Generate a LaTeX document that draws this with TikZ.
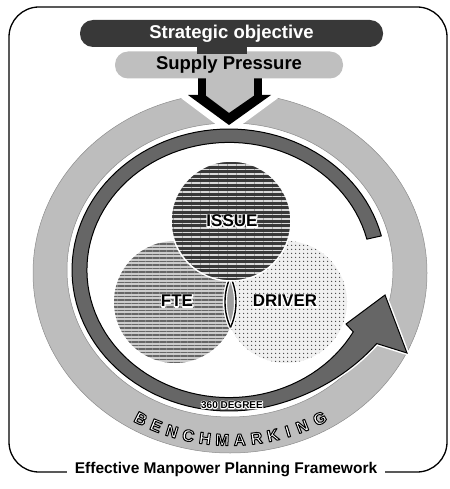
\documentclass[tikz,border=0pt]{standalone}
\usepackage{fontspec}
\setmainfont{Liberation Sans}
\usetikzlibrary{patterns.meta}

% text drawn with fill and stroke: #1 stroke width, #2 stroke RGB, #3 fill colour, #4 text
\newcommand\strokedtext[4]{{\color{#3}\special{pdf:literal direct #2 RG #1 w 1 j 2 Tr}#4\special{pdf:literal direct 0 Tr}}}
% black text with a white halo of half width #1
\newcommand\halotext[2]{\rlap{\strokedtext{#1}{1 1 1}{white}{#2}}{\color{black}#2}}

\begin{document}
\begin{tikzpicture}[x=1pt,y=-1pt,
  declare function={ex(\myr,\myt)=229+157*\myr*cos(\myt); ey(\myr,\myt)=270-141*\myr*sin(\myt);
                    ro(\myt)=1+0.076*((\myt-285)/46)*((\myt-285)/46);},
  lightring/.style={fill=black!26, draw=black!45, line width=0.5, even odd rule},
  darkarrow/.style={fill=black!60, draw=black, line width=1, line join=miter,
                    preaction={draw=white, line width=4}},
  pill/.style={rounded corners=13, minimum height=27, inner sep=0},
  lbl/.style={font=\fontsize{17}{17}\selectfont\bfseries},
  pilltext/.style={font=\fontsize{18.5}{19}\selectfont\bfseries},
  bench/.style={font=\fontsize{16.5}{17}\selectfont\bfseries, inner sep=0},
]
\useasboundingbox (0,0) rectangle (449,489);

% outer frame and title
\draw[line width=1.3, rounded corners=30] (9,7) rectangle (447,472);
\node[fill=white, inner xsep=8pt, inner ysep=2pt, font=\fontsize{15.5}{16}\selectfont\bfseries]
  (title) at (226,470) {Effective Manpower Planning Framework};

% light outer ring
\path[lightring] (230,273) ellipse[x radius=197, y radius=180]
                 (230,270) ellipse[x radius=163, y radius=147];

% white gap around the arrow head
\draw[white, line width=13, line join=miter] (185,93) -- (229,126) -- (274,93);

% dark spiral arrow
\path[darkarrow]
  plot[domain=14:285, samples=90] ({ex(1,\x)},{ey(1,\x)})
  -- plot[domain=285:331, samples=20] ({ex(ro(\x),\x)},{ey(ro(\x),\x)})
  -- (407,353) -- (385,295) -- (346,324)
  -- plot[domain=331:14, samples=100] ({ex(0.905,\x)},{ey(0.905,\x)})
  -- cycle;

% supply pressure arrow
\fill[black!25] (205,74) -- (205,96) -- (229,114) -- (255,96) -- (255,74) -- cycle;
\fill[black] (198,77) rectangle (206,97);
\fill[black] (254,77) rectangle (262,97);
\fill[black] (188,95) -- (229,125) -- (271,95) -- (255,95) -- (229,113) -- (205,95) -- cycle;

% pills
\node[pill, pilltext, fill=black!25, minimum width=228, text=black] (supply) at (229,65) {Supply Pressure};
\fill[black!78] (197,44) rectangle (247,54);
\node[pill, pilltext, fill=black!78, minimum width=303, text=white] (strat) at (231.5,33.5) {Strategic objective};

% Venn circles
\path[fill=black!20] (175,302) circle[radius=61];
\path[pattern={Lines[distance=3.5pt,line width=1.1pt]}, pattern color=black!60] (175,302) circle[radius=61];
\path[fill=black!6] (286,302) circle[radius=61];
\path[pattern={Dots[distance=4pt,radius=0.8pt]}, pattern color=black!75] (286,302) circle[radius=61];
\begin{scope}
  \clip (175,302) circle[radius=61];
  \fill[black!38] (286,302) circle[radius=61];
  \draw[white, line width=4] (286,302) circle[radius=61];
\end{scope}
\begin{scope}
  \clip (286,302) circle[radius=61];
  \draw[white, line width=4] (175,302) circle[radius=61];
\end{scope}
\begin{scope}
  \clip (175,302) circle[radius=61];
  \draw[black, line width=1.4] (286,302) circle[radius=61];
\end{scope}
\begin{scope}
  \clip (286,302) circle[radius=61];
  \draw[black, line width=1.4] (175,302) circle[radius=61];
\end{scope}
\path[fill=black!78] (231,221) circle[radius=60];
\path[pattern={Lines[distance=4.5pt,line width=1.2pt]}, pattern color=black!15] (231,221) circle[radius=60];
\draw[white, line width=1.5] (231,221) circle[radius=60];

% labels
\node[lbl] (issue) at (232,221) {\halotext{2.4}{ISSUE}};
\node[lbl] (fte) at (177,301) {\halotext{2.4}{FTE}};
\node[lbl] (driver) at (285,301) {\halotext{2.4}{DRIVER}};
\node[font=\fontsize{10}{10}\selectfont\bfseries] (deg) at (232,405) {\halotext{1.8}{360 DEGREE}};

% BENCHMARKING along the light ring
\foreach \ch/\ang [count=\i from 0] in {B/241,E/246.3,N/251.6,C/256.9,H/262.2,M/267.6,A/273,R/278.3,K/283.5,I/288.3,N/293.1,G/299.2} {
  \pgfmathsetmacro\rot{atan2(169*cos(\ang),-184*sin(\ang))}
  \node[bench, rotate=\rot] (bm\i) at ({230+184*cos(\ang)},{271-169*sin(\ang)}) {\strokedtext{1}{0 0 0}{white}{\ch}};
}
\end{tikzpicture}
\end{document}
